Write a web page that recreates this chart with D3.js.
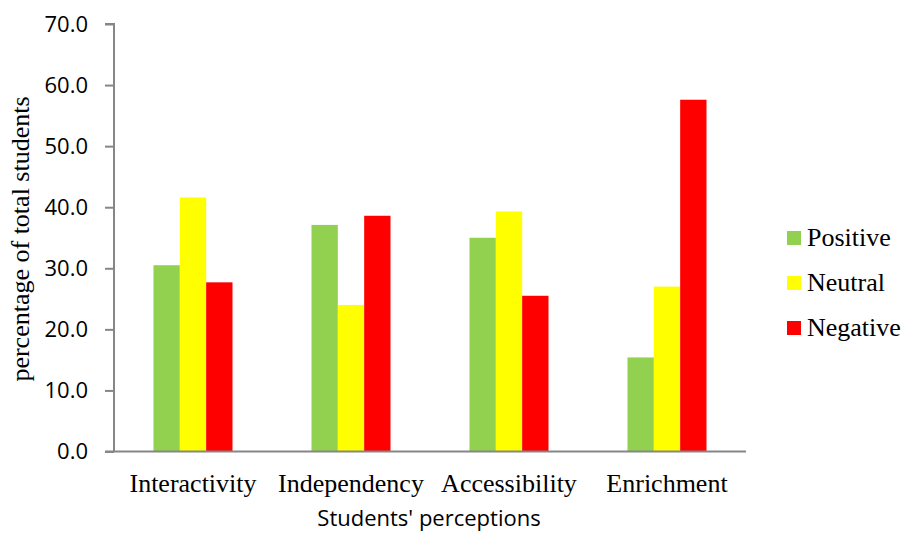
<!DOCTYPE html>
<html>
<head>
<meta charset="utf-8">
<script src="https://cdn.jsdelivr.net/npm/d3@7"></script>
<style>
  html, body { margin: 0; padding: 0; background: #fff; }
  svg { display: block; }
</style>
</head>
<body>
<svg id="chart" width="906" height="533"></svg>
<script>
// Students' perceptions, percentage of total students per response group
const categories = ["Interactivity", "Independency", "Accessibility", "Enrichment"];
const seriesNames = ["Positive", "Neutral", "Negative"];
const positive = [30.5, 37.1, 35.0, 15.4];
const neutral  = [41.6, 24.0, 39.3, 27.0];
const negative = [27.7, 38.6, 25.5, 57.6];
const seriesColors = ["#92D050", "#FFFF00", "#FF0000"];
const yTicks = [0, 10, 20, 30, 40, 50, 60, 70];

const seriesValues = [positive, neutral, negative];
const rows = categories.map((c, i) => ({
  category: c,
  values: seriesNames.map((s, j) => ({ series: s, value: seriesValues[j][i] }))
}));

const svg = d3.select("#chart");
const plot = { left: 114, right: 746, top: 24, bottom: 451.5 };
const axisColor = "#868686";

const x = d3.scaleBand().domain(categories).range([plot.left, plot.right]).padding(0);
const inner = d3.scaleBand().domain(seriesNames)
  .range([x.bandwidth() * 0.25, x.bandwidth() * 0.75]).padding(0);
const y = d3.scaleLinear().domain([0, 70]).range([plot.bottom, plot.top]);

// bars
const groups = svg.append("g").selectAll("g").data(rows).join("g")
  .attr("transform", d => `translate(${x(d.category)},0)`);
groups.selectAll("rect").data(d => d.values).join("rect")
  .attr("x", d => inner(d.series))
  .attr("width", inner.bandwidth())
  .attr("y", d => y(d.value))
  .attr("height", d => y(0) - y(d.value))
  .attr("fill", (d, i) => seriesColors[i]);

// y axis
const yAxis = svg.append("g")
  .attr("transform", `translate(${plot.left},0)`)
  .call(d3.axisLeft(y).tickValues(yTicks).tickFormat(d3.format(".1f"))
    .tickSize(9).tickPadding(17));
yAxis.select(".domain").attr("stroke", axisColor).attr("stroke-width", 2)
  .attr("d", `M-9,${y(70)}H0V${y(0)}`);
yAxis.selectAll(".tick line").attr("stroke", axisColor).attr("stroke-width", 2);
yAxis.selectAll(".tick text")
  .attr("fill", "#000")
  .style("font-family", "'Open Sans', sans-serif")
  .style("font-size", "22px");

// x axis line
svg.append("line")
  .attr("x1", plot.left - 9).attr("x2", plot.right)
  .attr("y1", y(0)).attr("y2", y(0))
  .attr("stroke", axisColor).attr("stroke-width", 2);

// category labels
svg.append("g").selectAll("text").data(categories).join("text")
  .attr("x", d => x(d) + x.bandwidth() / 2)
  .attr("y", 492)
  .attr("text-anchor", "middle")
  .style("font-family", "'Liberation Serif', 'Times New Roman', serif")
  .style("font-size", "26px")
  .text(d => d);

// axis titles
svg.append("text")
  .attr("transform", `translate(29,239) rotate(-90)`)
  .attr("text-anchor", "middle")
  .style("font-family", "'Liberation Serif', 'Times New Roman', serif")
  .style("font-size", "26px")
  .text("percentage of total students");

svg.append("text")
  .attr("x", 429)
  .attr("y", 526)
  .attr("text-anchor", "middle")
  .style("font-family", "'Open Sans', sans-serif")
  .style("font-size", "22px")
  .text("Students' perceptions");

// legend
const legend = svg.append("g").selectAll("g").data(seriesNames).join("g")
  .attr("transform", (d, i) => `translate(787,${231 + i * 45})`);
legend.append("rect")
  .attr("width", 14).attr("height", 14)
  .attr("fill", (d, i) => seriesColors[i]);
legend.append("text")
  .attr("x", 20).attr("y", 15)
  .style("font-family", "'Liberation Serif', 'Times New Roman', serif")
  .style("font-size", "26px")
  .text(d => d);
</script>
</body>
</html>
